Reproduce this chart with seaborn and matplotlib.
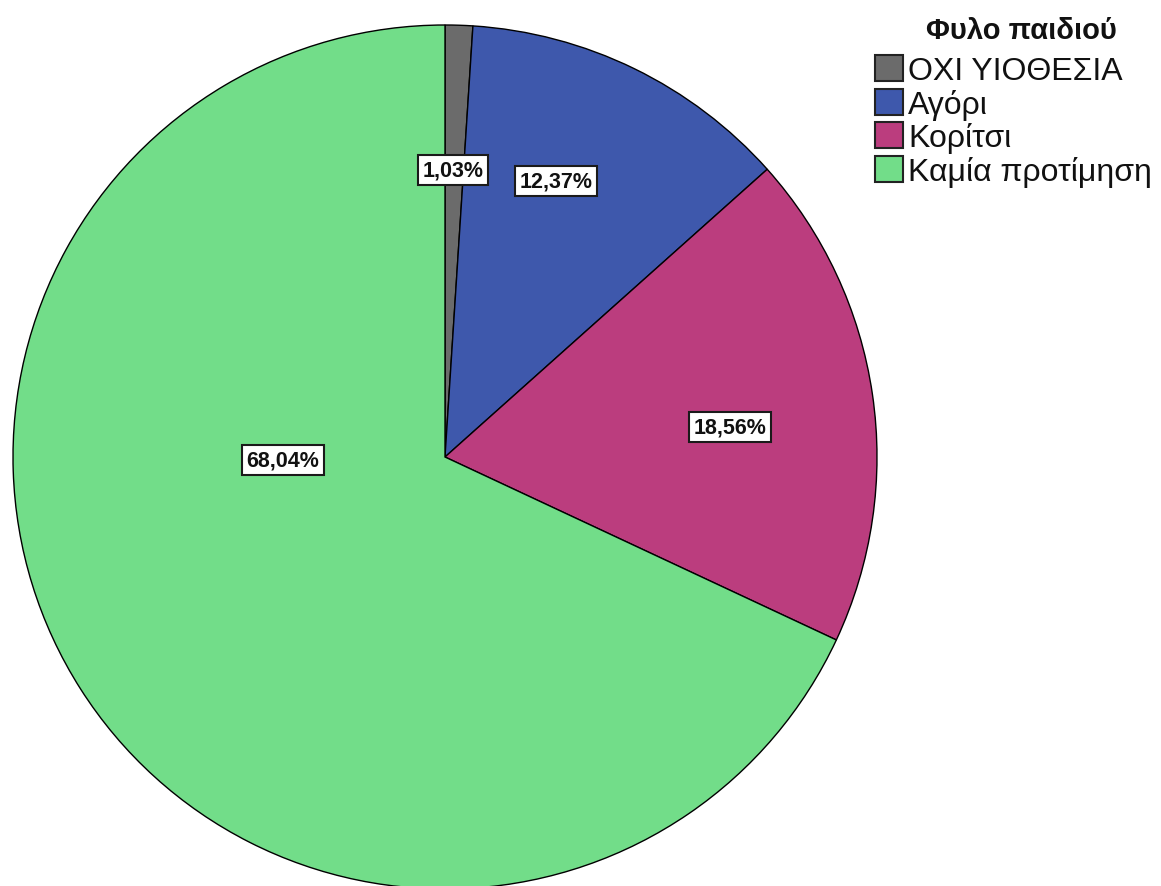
import matplotlib
matplotlib.use("Agg")
import matplotlib.pyplot as plt
import matplotlib.patches as mpatches
from matplotlib import font_manager
import seaborn as sns
import numpy as np

sns.set_theme(style="white")
plt.rcParams['font.family'] = ['Liberation Sans', 'DejaVu Sans']

categories = ["ΟΧΙ ΥΙΟΘΕΣΙΑ", "Αγόρι", "Κορίτσι", "Καμία προτίμηση"]
values = [1.03, 12.37, 18.56, 68.04]
labels = ["1,03%", "12,37%", "18,56%", "68,04%"]
colors = ["#6b6b6b", "#3e58ac", "#bb3d7e", "#72dd89"]
legend_title = "Φυλο παιδιού"

# label placement (radius fraction, angle clockwise from top in degrees)
label_r = [0.665, 0.689, 0.663, 0.375]
label_ang = [1.6, 21.9, 84.0, 268.9]

installed = {f.name for f in font_manager.fontManager.ttflist}
if 'Liberation Sans Narrow' in installed:
    lab_family, lab_size = ['Liberation Sans Narrow', 'DejaVu Sans'], 19
else:
    lab_family, lab_size = ['Liberation Sans', 'DejaVu Sans'], 15.5

fig = plt.figure(figsize=(11.61, 8.87), dpi=100)
ax = fig.add_axes([13/1161, (887-458-432)/887, 864/1161, 864/887])
wedges, _ = ax.pie(values, colors=colors, startangle=90, counterclock=False,
                   radius=1.0, wedgeprops=dict(edgecolor="black", linewidth=1.0))
ax.set_xlim(-1, 1)
ax.set_ylim(-1, 1)
ax.set_aspect('equal')
ax.axis('off')

for lab, r, a in zip(labels, label_r, label_ang):
    t = np.deg2rad(a)
    ax.text(r*np.sin(t), r*np.cos(t), lab, ha='center', va='center',
            fontsize=lab_size, fontweight='bold', color='#111111', family=lab_family,
            bbox=dict(boxstyle='square,pad=0.2', facecolor='white',
                      edgecolor='#1a1a1a', linewidth=1.5))

fig.text(1021/1161, 1 - 31/887, legend_title, ha='center', va='center',
         fontsize=21, fontweight='bold', color='#111111')

handles = [mpatches.Patch(facecolor=c, edgecolor='#222222', linewidth=1.5) for c in colors]
leg = fig.legend(handles, categories, loc='upper left',
                 bbox_to_anchor=(875/1161, 1 - 56/887), frameon=False,
                 fontsize=23, handlelength=0.88, handleheight=0.88,
                 handletextpad=0.16, labelspacing=0.08, borderpad=0.0,
                 borderaxespad=0.0)
for t in leg.get_texts():
    t.set_color('#111111')

fig.savefig("out.png", dpi=100)
